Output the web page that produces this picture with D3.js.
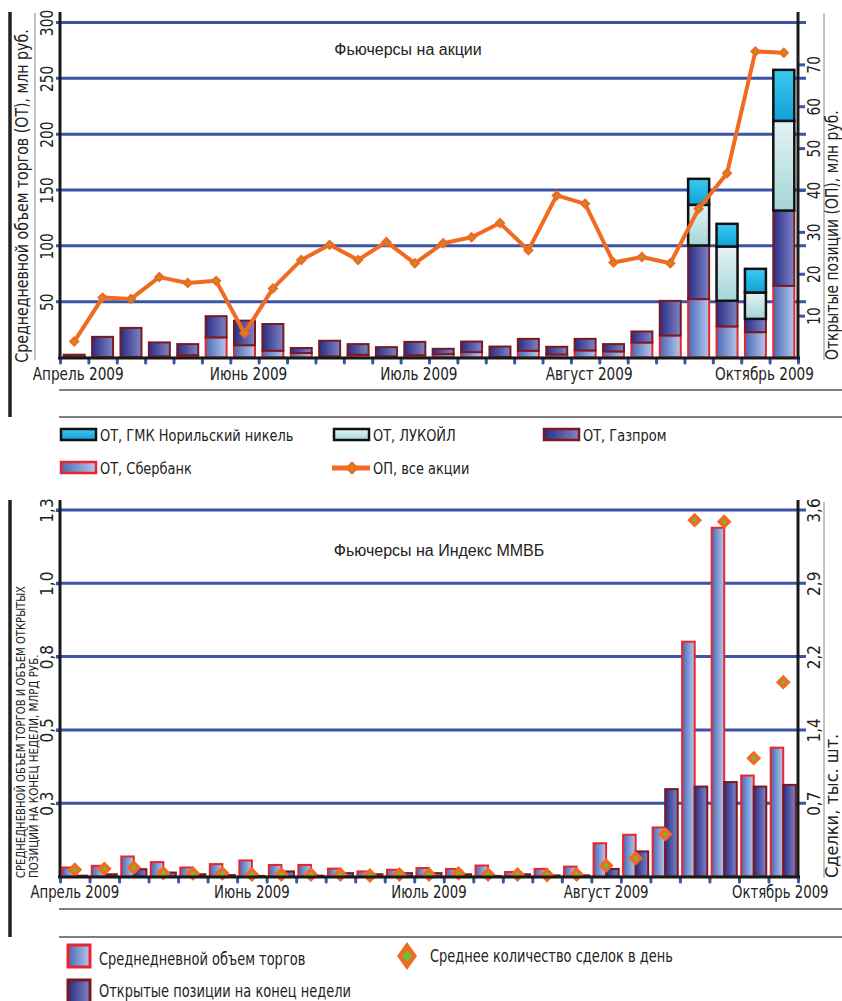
<!DOCTYPE html>
<html>
<head>
<meta charset="utf-8">
<script src="https://cdn.jsdelivr.net/npm/d3@7"></script>
<style>
body { margin: 0; background: #fff; }
svg text { font-family: "Liberation Sans Narrow", "DejaVu Sans Condensed", "Arial Narrow", sans-serif; fill: #222; }
</style>
</head>
<body>
<svg id="chart" width="842" height="1001"></svg>
<script>
const svg = d3.select('#chart');

// ---- top chart: stock futures, weekly (Apr - Oct 2009)
const weeksTop = ['1','2','3','4','5','6','7','8','9','10','11','12','13','14','15','16','17','18','19','20','21','22','23','24','25','26'];
const sber    = [0.5, 0.5, 0.5, 1, 2, 18, 11, 6, 4, 1, 2.4, 1, 2, 3, 4.8, 0.5, 6, 2.7, 6.3, 5.4, 13.4, 19.7, 52.3, 27.8, 22.7, 64.2];
const gazprom = [2, 18, 26, 12.5, 10, 19, 22, 24, 4.5, 14, 9.6, 8.3, 12, 4.8, 9.5, 9.3, 10.7, 6.9, 10.4, 6.6, 9.9, 31, 48, 23, 11.9, 67.4];
const lukoil  = [0, 0, 0, 0, 0, 0, 0, 0, 0, 0, 0, 0, 0, 0, 0, 0, 0, 0, 0, 0, 0, 0, 36.4, 48.6, 23.6, 80.3];
const norilsk = [0, 0, 0, 0, 0, 0, 0, 0, 0, 0, 0, 0, 0, 0, 0, 0, 0, 0, 0, 0, 0, 0, 23.3, 20.3, 21.2, 45.7];
const openPos = [3.8, 14.3, 14.0, 19.2, 17.8, 18.3, 5.8, 16.5, 23.3, 26.9, 23.3, 27.6, 22.5, 27.3, 28.7, 32.1, 25.6, 38.7, 36.7, 22.7, 24.0, 22.5, 35.5, 44.0, 73.1, 72.8];
const leftTicksTop = [50, 100, 150, 200, 250, 300];
const rightTicksTop = [10, 20, 30, 40, 50, 60, 70];

// ---- bottom chart: MICEX index futures
const weeksBot = ['1','2','3','4','5','6','7','8','9','10','11','12','13','14','15','16','17','18','19','20','21','22','23','24','25'];
const volume  = [0.032, 0.038, 0.071, 0.051, 0.032, 0.044, 0.057, 0.041, 0.041, 0.028, 0.018, 0.024, 0.03, 0.027, 0.039, 0.016, 0.027, 0.035, 0.118, 0.148, 0.174, 0.833, 1.237, 0.358, 0.457];
const openInt = [0.003, 0.008, 0.026, 0.014, 0.008, 0.005, 0.002, 0.018, 0.003, 0.012, 0.008, 0.012, 0.012, 0.008, 0.002, 0.008, 0.004, 0.004, 0.027, 0.089, 0.31, 0.319, 0.335, 0.319, 0.325];
const deals   = [0.066, 0.075, 0.088, 0.033, 0.03, 0.03, 0.02, 0.02, 0.02, 0.02, 0.01, 0.02, 0.02, 0.03, 0.02, 0.02, 0.015, 0.02, 0.108, 0.18, 0.416, 3.50, 3.485, 1.162, 1.909];
const leftTicksBot = [0.26, 0.52, 0.78, 1.04, 1.3];
const leftLabelsBot = ['0,3', '0,5', '0,8', '1,0', '1,3'];
const rightTicksBot = [0.72, 1.44, 2.16, 2.88, 3.6];
const rightLabelsBot = ['0,7', '1,4', '2,2', '2,9', '3,6'];

const monthLabels = ['Апрель 2009', 'Июнь 2009', 'Июль 2009', 'Август 2009', 'Октябрь 2009'];
const monthWeeks = ['1', '7', '13', '19', '25'];

const blue = '#3a54a6';
const orange = '#f26a21';
const green = '#6cbf3a';

// gradients
const defs = svg.append('defs');
function grad(id, c1, c2, vertical) {
    let g = defs.append('linearGradient').attr('id', id)
        .attr('x1', 0).attr('y1', 0).attr('x2', vertical ? 0 : 1).attr('y2', vertical ? 1 : 0);
    g.append('stop').attr('offset', '0%').attr('stop-color', c1);
    g.append('stop').attr('offset', '100%').attr('stop-color', c2);
}
grad('gSber', '#4a68b4', '#b6c8ee', false);
grad('gGaz', '#2b2c84', '#7e85c4', false);
grad('gLuk', '#e4f3f7', '#a4d5d5', true);
grad('gNor', '#3ccaf2', '#10a2d6', true);

// the print font is a tight condensed face, squeeze our text to match
function squeeze(sel, k) {
    sel.each(function() {
        let w = this.getComputedTextLength();
        d3.select(this).attr('textLength', w * k).attr('lengthAdjust', 'spacingAndGlyphs');
    });
}

// frame lines
function frame(y0, y1, yLine1, yLine2) {
    svg.append('line').attr('x1', 10).attr('x2', 10).attr('y1', y0).attr('y2', y1)
        .attr('stroke', '#222').attr('stroke-width', 3.5);
    [yLine1, yLine2].forEach(y => {
        svg.append('line').attr('x1', 59).attr('x2', 842).attr('y1', y).attr('y2', y)
            .attr('stroke', '#555').attr('stroke-width', 1.5);
    });
}
frame(12, 417, 390, 417);
frame(500, 937, 909, 937);

function rotateTicks(g, off) {
    g.selectAll('.tick text')
        .attr('transform', 'rotate(-90)')
        .attr('x', 0).attr('y', off).attr('dy', null)
        .attr('text-anchor', 'middle');
}

function diamond(g, cx, cy, size, inner) {
    g.append('path').attr('d', d3.symbol(d3.symbolSquare, size)())
        .attr('transform', `translate(${cx},${cy}) rotate(45)`)
        .attr('fill', orange);
    g.append('path').attr('d', d3.symbol(d3.symbolSquare, inner)())
        .attr('transform', `translate(${cx},${cy}) rotate(45)`)
        .attr('fill', green);
}

// ================= TOP CHART =================
function drawTop() {
    const g = svg.append('g');
    const x = d3.scaleBand().domain(weeksTop).range([60, 798]).paddingInner(0.26).paddingOuter(0.13);
    const y = d3.scaleLinear().domain([0, 300]).range([357.5, 22.5]);
    const yr = d3.scaleLinear().domain([0, 80]).range([357.5, 22.5]);

    // gridlines
    g.selectAll('.grid').data(leftTicksTop).join('line')
        .attr('class', 'grid')
        .attr('x1', 56).attr('x2', 806)
        .attr('y1', d => y(d)).attr('y2', d => y(d))
        .attr('stroke', blue).attr('stroke-width', 3);

    // stacked bars
    let rows = weeksTop.map((w, i) => ({ week: w, sber: sber[i], gazprom: gazprom[i], lukoil: lukoil[i], norilsk: norilsk[i] }));
    let layers = d3.stack().keys(['sber', 'gazprom', 'lukoil', 'norilsk'])(rows);
    let fills = { sber: 'url(#gSber)', gazprom: 'url(#gGaz)', lukoil: 'url(#gLuk)', norilsk: 'url(#gNor)' };
    let strokes = { sber: '#e8262c', gazprom: '#7a1a20', lukoil: '#111', norilsk: '#111' };

    layers.forEach(layer => {
        g.append('g').selectAll('rect')
            .data(layer.filter(d => d[1] - d[0] > 0))
            .join('rect')
            .attr('x', d => x(d.data.week))
            .attr('y', d => y(d[1]))
            .attr('width', x.bandwidth())
            .attr('height', d => y(d[0]) - y(d[1]))
            .attr('fill', fills[layer.key])
            .attr('stroke', strokes[layer.key])
            .attr('stroke-width', layer.key == 'sber' || layer.key == 'gazprom' ? 2 : 2.5);
    });

    // open positions line
    const cx = i => x(weeksTop[i]) + x.bandwidth() / 2;
    const line = d3.line().x((d, i) => cx(i)).y(d => yr(d));
    g.append('path').attr('d', line(openPos))
        .attr('fill', 'none').attr('stroke', orange).attr('stroke-width', 4)
        .attr('stroke-linejoin', 'round');
    openPos.forEach((v, i) => diamond(g, cx(i), yr(v), 60, 5));

    // x ticks at week boundaries
    const xi = d3.scaleLinear().domain([0, weeksTop.length]).range([60, 798]);
    let xt = g.append('g').attr('transform', 'translate(0,358)')
        .call(d3.axisBottom(xi).tickValues(d3.range(weeksTop.length + 1)).tickSize(5).tickFormat(''));
    xt.select('.domain').remove();
    xt.selectAll('line').attr('stroke', blue).attr('stroke-width', 3).attr('stroke-linecap', 'round');

    // month labels
    let xl = g.append('g').attr('transform', 'translate(0,358)')
        .call(d3.axisBottom(x).tickValues(monthWeeks).tickFormat((d, i) => monthLabels[i]).tickSize(0).tickPadding(9));
    xl.select('.domain').remove();
    xl.attr('font-size', 18);
    xl.selectAll('.tick text').attr('dx', (d, i) => i == 4 ? 9 : 4);
    squeeze(xl.selectAll('.tick text'), 0.84);

    // left axis
    let la = g.append('g').attr('transform', 'translate(60,0)')
        .call(d3.axisLeft(y).tickValues(leftTicksTop).tickSize(0));
    la.select('.domain').remove();
    la.attr('font-size', 17);
    rotateTicks(la, -7);
    squeeze(la.selectAll('.tick text'), 0.9);

    // right axis
    let ra = g.append('g').attr('transform', 'translate(798,0)')
        .call(d3.axisRight(yr).tickValues(rightTicksTop).tickSize(7));
    ra.select('.domain').remove();
    ra.selectAll('line').attr('stroke', blue).attr('stroke-width', 3);
    ra.attr('font-size', 17);
    rotateTicks(ra, 22);
    squeeze(ra.selectAll('.tick text'), 0.9);

    // axis lines
    g.append('line').attr('x1', 60).attr('x2', 60).attr('y1', 12).attr('y2', 359).attr('stroke', '#1a1a1a').attr('stroke-width', 3);
    g.append('line').attr('x1', 798).attr('x2', 798).attr('y1', 12).attr('y2', 359).attr('stroke', '#1a1a1a').attr('stroke-width', 3);
    g.append('line').attr('x1', 58).attr('x2', 800).attr('y1', 358).attr('y2', 358).attr('stroke', '#1a1a1a').attr('stroke-width', 3);

    // thin grey side lines
    g.append('line').attr('x1', 35).attr('x2', 35).attr('y1', 13).attr('y2', 360).attr('stroke', '#888').attr('stroke-width', 1);
    g.append('line').attr('x1', 824).attr('x2', 824).attr('y1', 13).attr('y2', 360).attr('stroke', '#888').attr('stroke-width', 1);

    // titles
    g.append('text').attr('x', 408).attr('y', 55).attr('text-anchor', 'middle')
        .style('font-family', '"Liberation Sans", Arial, sans-serif').attr('font-size', 16)
        .text('Фьючерсы на акции');
    let lt = g.append('text').attr('transform', 'translate(28,196) rotate(-90)').attr('text-anchor', 'middle')
        .attr('font-size', 17.5).text('Среднедневной объем торгов (ОТ), млн руб.');
    squeeze(lt, 0.9);
    let rt = g.append('text').attr('transform', 'translate(838,360) rotate(-90)').attr('text-anchor', 'start')
        .attr('font-size', 18).text('Открытые позиции (ОП), млн руб.');
    squeeze(rt, 0.86);

    // legend
    const lg = svg.append('g').attr('font-size', 16);
    const items = [
        { x: 61, y: 429, fill: 'url(#gNor)', stroke: '#111', text: 'ОТ, ГМК Норильский никель' },
        { x: 334, y: 429, fill: 'url(#gLuk)', stroke: '#111', text: 'ОТ, ЛУКОЙЛ' },
        { x: 544, y: 429, fill: 'url(#gGaz)', stroke: '#7a1a20', text: 'ОТ, Газпром' },
        { x: 61, y: 462, fill: 'url(#gSber)', stroke: '#e8262c', text: 'ОТ, Сбербанк' }
    ];
    items.forEach(d => {
        lg.append('rect').attr('x', d.x).attr('y', d.y).attr('width', 35).attr('height', 11)
            .attr('fill', d.fill).attr('stroke', d.stroke).attr('stroke-width', 2.5);
        lg.append('text').attr('x', d.x + 39).attr('y', d.y + 12).text(d.text);
    });
    lg.append('line').attr('x1', 332).attr('x2', 370).attr('y1', 468).attr('y2', 468)
        .attr('stroke', orange).attr('stroke-width', 5);
    diamond(lg, 352, 468, 90, 6);
    lg.append('text').attr('x', 373).attr('y', 474).text('ОП, все акции');
    squeeze(lg.selectAll('text'), 0.9);
}

// ================= BOTTOM CHART =================
function drawBottom() {
    const g = svg.append('g');
    const x = d3.scaleBand().domain(weeksBot).range([60, 798]).paddingInner(0.15).paddingOuter(0.075);
    const xs = d3.scaleBand().domain(['vol', 'oi']).range([0, x.bandwidth()]);
    const y = d3.scaleLinear().domain([0, 1.3]).range([876.5, 510]);
    const yr = d3.scaleLinear().domain([0, 3.6]).range([876.5, 510]);

    g.selectAll('.grid').data(leftTicksBot).join('line')
        .attr('class', 'grid')
        .attr('x1', 56).attr('x2', 806)
        .attr('y1', d => y(d)).attr('y2', d => y(d))
        .attr('stroke', blue).attr('stroke-width', 3);

    g.append('g').selectAll('rect').data(volume).join('rect')
        .attr('x', (d, i) => x(weeksBot[i]) + xs('vol'))
        .attr('y', d => y(d))
        .attr('width', xs.bandwidth())
        .attr('height', d => y(0) - y(d))
        .attr('fill', 'url(#gSber)').attr('stroke', '#e8262c').attr('stroke-width', 2);

    g.append('g').selectAll('rect').data(openInt).join('rect')
        .attr('x', (d, i) => x(weeksBot[i]) + xs('oi'))
        .attr('y', d => y(d))
        .attr('width', xs.bandwidth())
        .attr('height', d => y(0) - y(d))
        .attr('fill', 'url(#gGaz)').attr('stroke', '#7a1a20').attr('stroke-width', 2);

    deals.forEach((v, i) => diamond(g, x(weeksBot[i]) + x.bandwidth() / 2, yr(v), 110, 14));

    const xi = d3.scaleLinear().domain([0, weeksBot.length]).range([60, 798]);
    let xt = g.append('g').attr('transform', 'translate(0,877)')
        .call(d3.axisBottom(xi).tickValues(d3.range(weeksBot.length + 1)).tickSize(5).tickFormat(''));
    xt.select('.domain').remove();
    xt.selectAll('line').attr('stroke', blue).attr('stroke-width', 3).attr('stroke-linecap', 'round');

    let xl = g.append('g').attr('transform', 'translate(0,877)')
        .call(d3.axisBottom(x).tickValues(monthWeeks).tickFormat((d, i) => monthLabels[i]).tickSize(0).tickPadding(8));
    xl.select('.domain').remove();
    xl.attr('font-size', 18);
    xl.selectAll('.tick text').attr('dx', (d, i) => i == 4 ? -3 : 0);
    squeeze(xl.selectAll('.tick text'), 0.82);

    let la = g.append('g').attr('transform', 'translate(60,0)')
        .call(d3.axisLeft(y).tickValues(leftTicksBot).tickFormat((d, i) => leftLabelsBot[i]).tickSize(4));
    la.select('.domain').remove();
    la.selectAll('line').attr('stroke', blue).attr('stroke-width', 3);
    la.attr('font-size', 17);
    rotateTicks(la, -7);

    let ra = g.append('g').attr('transform', 'translate(798,0)')
        .call(d3.axisRight(yr).tickValues(rightTicksBot).tickFormat((d, i) => rightLabelsBot[i]).tickSize(0));
    ra.select('.domain').remove();
    ra.attr('font-size', 17);
    rotateTicks(ra, 22);

    g.append('line').attr('x1', 60).attr('x2', 60).attr('y1', 500).attr('y2', 878).attr('stroke', '#1a1a1a').attr('stroke-width', 3);
    g.append('line').attr('x1', 798).attr('x2', 798).attr('y1', 500).attr('y2', 878).attr('stroke', '#1a1a1a').attr('stroke-width', 3);
    g.append('line').attr('x1', 58).attr('x2', 800).attr('y1', 877).attr('y2', 877).attr('stroke', '#1a1a1a').attr('stroke-width', 3);
    g.append('line').attr('x1', 824).attr('x2', 824).attr('y1', 502).attr('y2', 878).attr('stroke', '#888').attr('stroke-width', 1);

    g.append('text').attr('x', 439).attr('y', 556).attr('text-anchor', 'middle')
        .style('font-family', '"Liberation Sans", Arial, sans-serif').attr('font-size', 16)
        .text('Фьючерсы на Индекс ММВБ');
    let t1 = g.append('text').attr('transform', 'translate(25,878) rotate(-90)').attr('font-size', 13)
        .text('СРЕДНЕДНЕВНОЙ ОБЪЕМ ТОРГОВ И ОБЪЕМ ОТКРЫТЫХ');
    let t2 = g.append('text').attr('transform', 'translate(38,878) rotate(-90)').attr('font-size', 13)
        .text('ПОЗИЦИЙ НА КОНЕЦ НЕДЕЛИ, МЛРД РУБ.');
    squeeze(t1, 0.86);
    squeeze(t2, 0.88);
    g.append('text').attr('transform', 'translate(838,878) rotate(-90)').attr('font-size', 18)
        .text('Сделки, тыс. шт.');

    // legend
    const lg = svg.append('g').attr('font-size', 17);
    lg.append('rect').attr('x', 68).attr('y', 945).attr('width', 22).attr('height', 22)
        .attr('fill', 'url(#gSber)').attr('stroke', '#e8262c').attr('stroke-width', 3);
    lg.append('text').attr('x', 99).attr('y', 965).text('Среднедневной объем торгов');
    lg.append('rect').attr('x', 68).attr('y', 980).attr('width', 22).attr('height', 24)
        .attr('fill', 'url(#gGaz)').attr('stroke', '#7a1a20').attr('stroke-width', 3);
    lg.append('text').attr('x', 99).attr('y', 997).text('Открытые позиции на конец недели');
    lg.append('path').attr('d', 'M0,-14L10,0L0,14L-10,0Z').attr('transform', 'translate(407,956)').attr('fill', orange);
    lg.append('path').attr('d', 'M0,-6L5,0L0,6L-5,0Z').attr('transform', 'translate(407,956)').attr('fill', green);
    lg.append('text').attr('x', 430).attr('y', 962).text('Среднее количество сделок в день');
    squeeze(lg.selectAll('text'), 0.85);
}

drawTop();
drawBottom();
</script>
</body>
</html>
